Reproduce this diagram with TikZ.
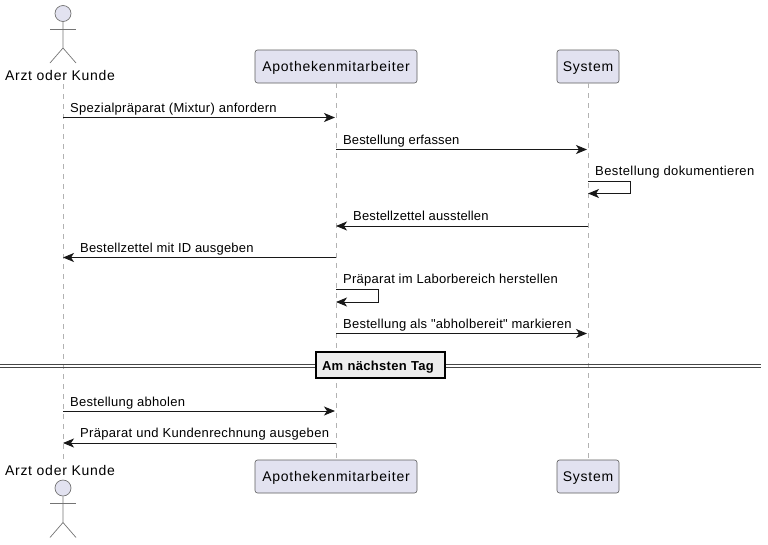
\documentclass[tikz,border=0pt]{standalone}
\usepackage{fontspec}
\setmainfont{Liberation Sans}[Ligatures=TeXOff]
\usepackage{xcolor}
\usetikzlibrary{positioning, arrows.meta}
\definecolor{partfill}{HTML}{E2E2F0}
\definecolor{inkdark}{HTML}{181818}
\tikzset{
  part/.style={draw=inkdark!70, line width=0.6pt, rounded corners=2.5pt, fill=partfill, inner sep=0pt, minimum height=33, text height=12, text depth=2, font=\fontsize{14}{16}\selectfont\addfontfeature{LetterSpace=5.4}, text=black},
  actorlabel/.style={inner sep=0pt, font=\fontsize{14}{16}\selectfont\addfontfeature{LetterSpace=5.2}, text=black},
  life/.style={draw=black!30, line width=1pt, dash pattern=on 5pt off 5pt},
  limb/.style={draw=inkdark!60, line width=0.7pt},
  head/.style={circle, draw=inkdark!60, line width=0.7pt, fill=partfill, minimum size=16, inner sep=0pt},
  msg/.style={draw=inkdark, line width=0.9pt, -{Stealth[length=11pt, width=9pt, inset=3pt]}},
  msgtext/.style={anchor=base west, inner sep=0pt, font=\fontsize{13}{15}\selectfont\addfontfeature{LetterSpace=#1}, text=black},
  msgtext/.default=2.1,
  divider/.style={draw=black, line width=2pt, fill=black!7, inner ysep=0pt, inner xsep=6, text width=117, align=left, minimum height=26, text height=12, text depth=2, font=\fontsize{13}{15}\selectfont\bfseries\addfontfeature{LetterSpace=2.3}},
  rail/.style={draw=inkdark!80, line width=0.9pt}
}
\begin{document}
\begin{tikzpicture}[x=1pt, y=-1pt]
  \useasboundingbox (0,0) rectangle (768,544);

  % Lifeline ends
  \coordinate (arztO) at (63,84);
  \coordinate (arztU) at (63,460);
  \node[part, minimum width=162] (mitO) at (336,66.5) {Apothekenmitarbeiter};
  \node[part, minimum width=62] (sysO) at (588,66.5) {System};
  \node[part, minimum width=162] (mitU) at (336,476.5) {Apothekenmitarbeiter};
  \node[part, minimum width=62] (sysU) at (588,476.5) {System};

  % Lifelines
  \draw[life] (arztO) -- (arztU);
  \draw[life] (mitO) -- (mitU);
  \draw[life] (sysO) -- (sysU);

  % Actors
  \node[actorlabel] (arztLabelO) at (60,75) {Arzt oder Kunde};
  \node[actorlabel] (arztLabelU) at (60,470) {Arzt oder Kunde};
  \node[head] (headO) at (63,13.5) {};
  \draw[limb] (headO) -- (63,48) -- (50,63);
  \draw[limb] (63,48) -- (76,63);
  \draw[limb] (50,29) -- (76,29);
  \node[head] (headU) at (63,488) {};
  \draw[limb] (headU) -- (63,522.5) -- (50,537.5);
  \draw[limb] (63,522.5) -- (76,537.5);
  \draw[limb] (50,503.5) -- (76,503.5);

  % Message ends
  \coordinate (a1) at (63,117.5);  \coordinate (m1) at (335,117.5);
  \coordinate (m2) at (336,149.5); \coordinate (s2) at (587,149.5);
  \coordinate (s3) at (588,181);   \coordinate (s3b) at (588,193.5);
  \coordinate (s4) at (588,226);   \coordinate (m4) at (336,226);
  \coordinate (m5) at (336,257.5); \coordinate (a5) at (63,257.5);
  \coordinate (m6) at (336,289);   \coordinate (m6b) at (336,302);
  \coordinate (m7) at (336,333.5); \coordinate (s7) at (587,333.5);
  \coordinate (a8) at (63,411);    \coordinate (m8) at (335,411);
  \coordinate (m9) at (336,443);   \coordinate (a9) at (63,443);

  % Messages
  \draw[msg] (a1) -- (m1);
  \node[msgtext] (t1) at (70,112) {Spezialpräparat (Mixtur) anfordern};
  \draw[msg] (m2) -- (s2);
  \node[msgtext=0.9] (t2) at (343,144) {Bestellung erfassen};
  \draw[msg] (s3) -- (630,181) -- (630,193.5) -- (s3b);
  \node[msgtext=3.1] (t3) at (595,175.5) {Bestellung dokumentieren};
  \draw[msg] (s4) -- (m4);
  \node[msgtext=1.1] (t4) at (353,220) {Bestellzettel ausstellen};
  \draw[msg] (m5) -- (a5);
  \node[msgtext=1.55] (t5) at (80,252) {Bestellzettel mit ID ausgeben};
  \draw[msg] (m6) -- (378,289) -- (378,302) -- (m6b);
  \node[msgtext=2] (t6) at (343,283) {Präparat im Laborbereich herstellen};
  \draw[msg] (m7) -- (s7);
  \node[msgtext=2] (t7) at (343,328) {Bestellung als "abholbereit" markieren};

  % Divider
  \coordinate (railL) at (0,364.5);  \coordinate (railR) at (761,364.5);
  \coordinate (railLb) at (0,367.5); \coordinate (railRb) at (761,367.5);
  \draw[rail] (railL) -- (railR);
  \draw[rail] (railLb) -- (railRb);
  \node[divider] (tag) at (380.5,365) {Am nächsten Tag};

  \draw[msg] (a8) -- (m8);
  \node[msgtext] (t8) at (70,406) {Bestellung abholen};
  \draw[msg] (m9) -- (a9);
  \node[msgtext=2.5] (t9) at (80,437) {Präparat und Kundenrechnung ausgeben};
\end{tikzpicture}
\end{document}
